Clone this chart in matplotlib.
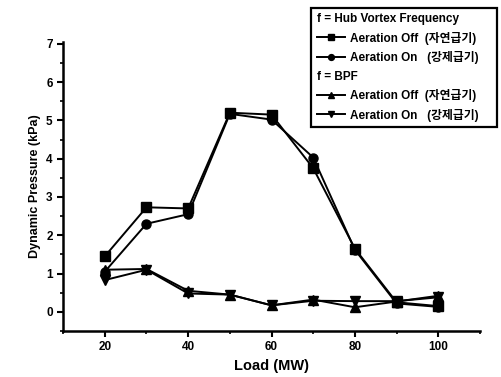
import numpy as np
import matplotlib.pyplot as plt
from matplotlib.lines import Line2D
from matplotlib.ticker import MultipleLocator

plt.rcParams['font.family'] = ['Liberation Sans', 'Noto Sans CJK KR', 'DejaVu Sans']
plt.rcParams['font.weight'] = 'bold'

# 부하 (MW)
load = [20, 30, 40, 50, 60, 70, 80, 90, 100]

# f = Hub Vortex Frequency
hub_off = [1.45, 2.73, 2.70, 5.20, 5.15, 3.75, 1.65, 0.25, 0.15]
hub_on = [1.05, 2.30, 2.55, 5.17, 5.02, 4.03, 1.62, 0.22, 0.13]

# f = BPF
bpf_off = [1.10, 1.12, 0.55, 0.45, 0.17, 0.32, 0.12, 0.27, 0.42]
bpf_on = [0.83, 1.10, 0.48, 0.45, 0.17, 0.29, 0.28, 0.28, 0.38]

labels = ["Aeration Off  (자연급기)", "Aeration On   (강제급기)"]
headers = ["f = Hub Vortex Frequency", "f = BPF"]

fig = plt.figure(figsize=(5.01, 3.77), dpi=100)
ax = fig.add_axes([0.126, 0.122, 0.832, 0.767])

kw = dict(color='black', lw=1.4, ms=6.5)
l1, = ax.plot(load, hub_off, marker='s', **kw)
l2, = ax.plot(load, hub_on, marker='o', **kw)
l3, = ax.plot(load, bpf_off, marker='^', **kw)
l4, = ax.plot(load, bpf_on, marker='v', **kw)

ax.set_xlim(10, 110)
ax.set_ylim(-0.5, 7.05)
ax.xaxis.set_major_locator(MultipleLocator(20))
ax.xaxis.set_minor_locator(MultipleLocator(10))
ax.yaxis.set_minor_locator(MultipleLocator(0.5))
ax.set_yticks(range(0, 8))
ax.tick_params(direction='out', width=1.5, length=4, labelsize=8.5)
ax.tick_params(which='minor', direction='out', width=1.2, length=2)
ax.spines['top'].set_visible(False)
ax.spines['right'].set_visible(False)
ax.spines['left'].set_linewidth(1.8)
ax.spines['bottom'].set_linewidth(1.8)

ax.set_xlabel("Load (MW)", fontsize=10.5, fontweight='bold')
ax.set_ylabel("Dynamic Pressure (kPa)", fontsize=9, fontweight='bold')

blank = Line2D([], [], lw=0)
handles = [blank, l1, l2, blank, l3, l4]
texts = [headers[0], labels[0], labels[1], headers[1], labels[0], labels[1]]
leg = fig.legend(handles, texts, loc='upper right', bbox_to_anchor=(1.004, 0.995),
                 fontsize=8.5, frameon=True, fancybox=False, edgecolor='black',
                 framealpha=1, handlelength=2.4, handletextpad=0.4,
                 labelspacing=0.55, borderpad=0.45, markerscale=0.65)
leg.get_frame().set_linewidth(1.6)
for t in leg.get_texts():
    t.set_fontweight('bold')

# 헤더 줄은 범례 왼쪽 끝에서 시작하도록 옮김
fig.canvas.draw()
r = fig.canvas.get_renderer()
fb = leg.get_frame().get_window_extent(r)
inv = fig.transFigure.inverted()
for i in (0, 3):
    t = leg.get_texts()[i]
    tb = t.get_window_extent(r)
    x0, y0 = inv.transform((fb.x0 + 6, (tb.y0 + tb.y1) / 2))
    t.set_visible(False)
    fig.text(x0, y0, t.get_text(), fontsize=8.5, fontweight='bold',
             ha='left', va='center', zorder=10)

fig.savefig("out.png", dpi=100)
